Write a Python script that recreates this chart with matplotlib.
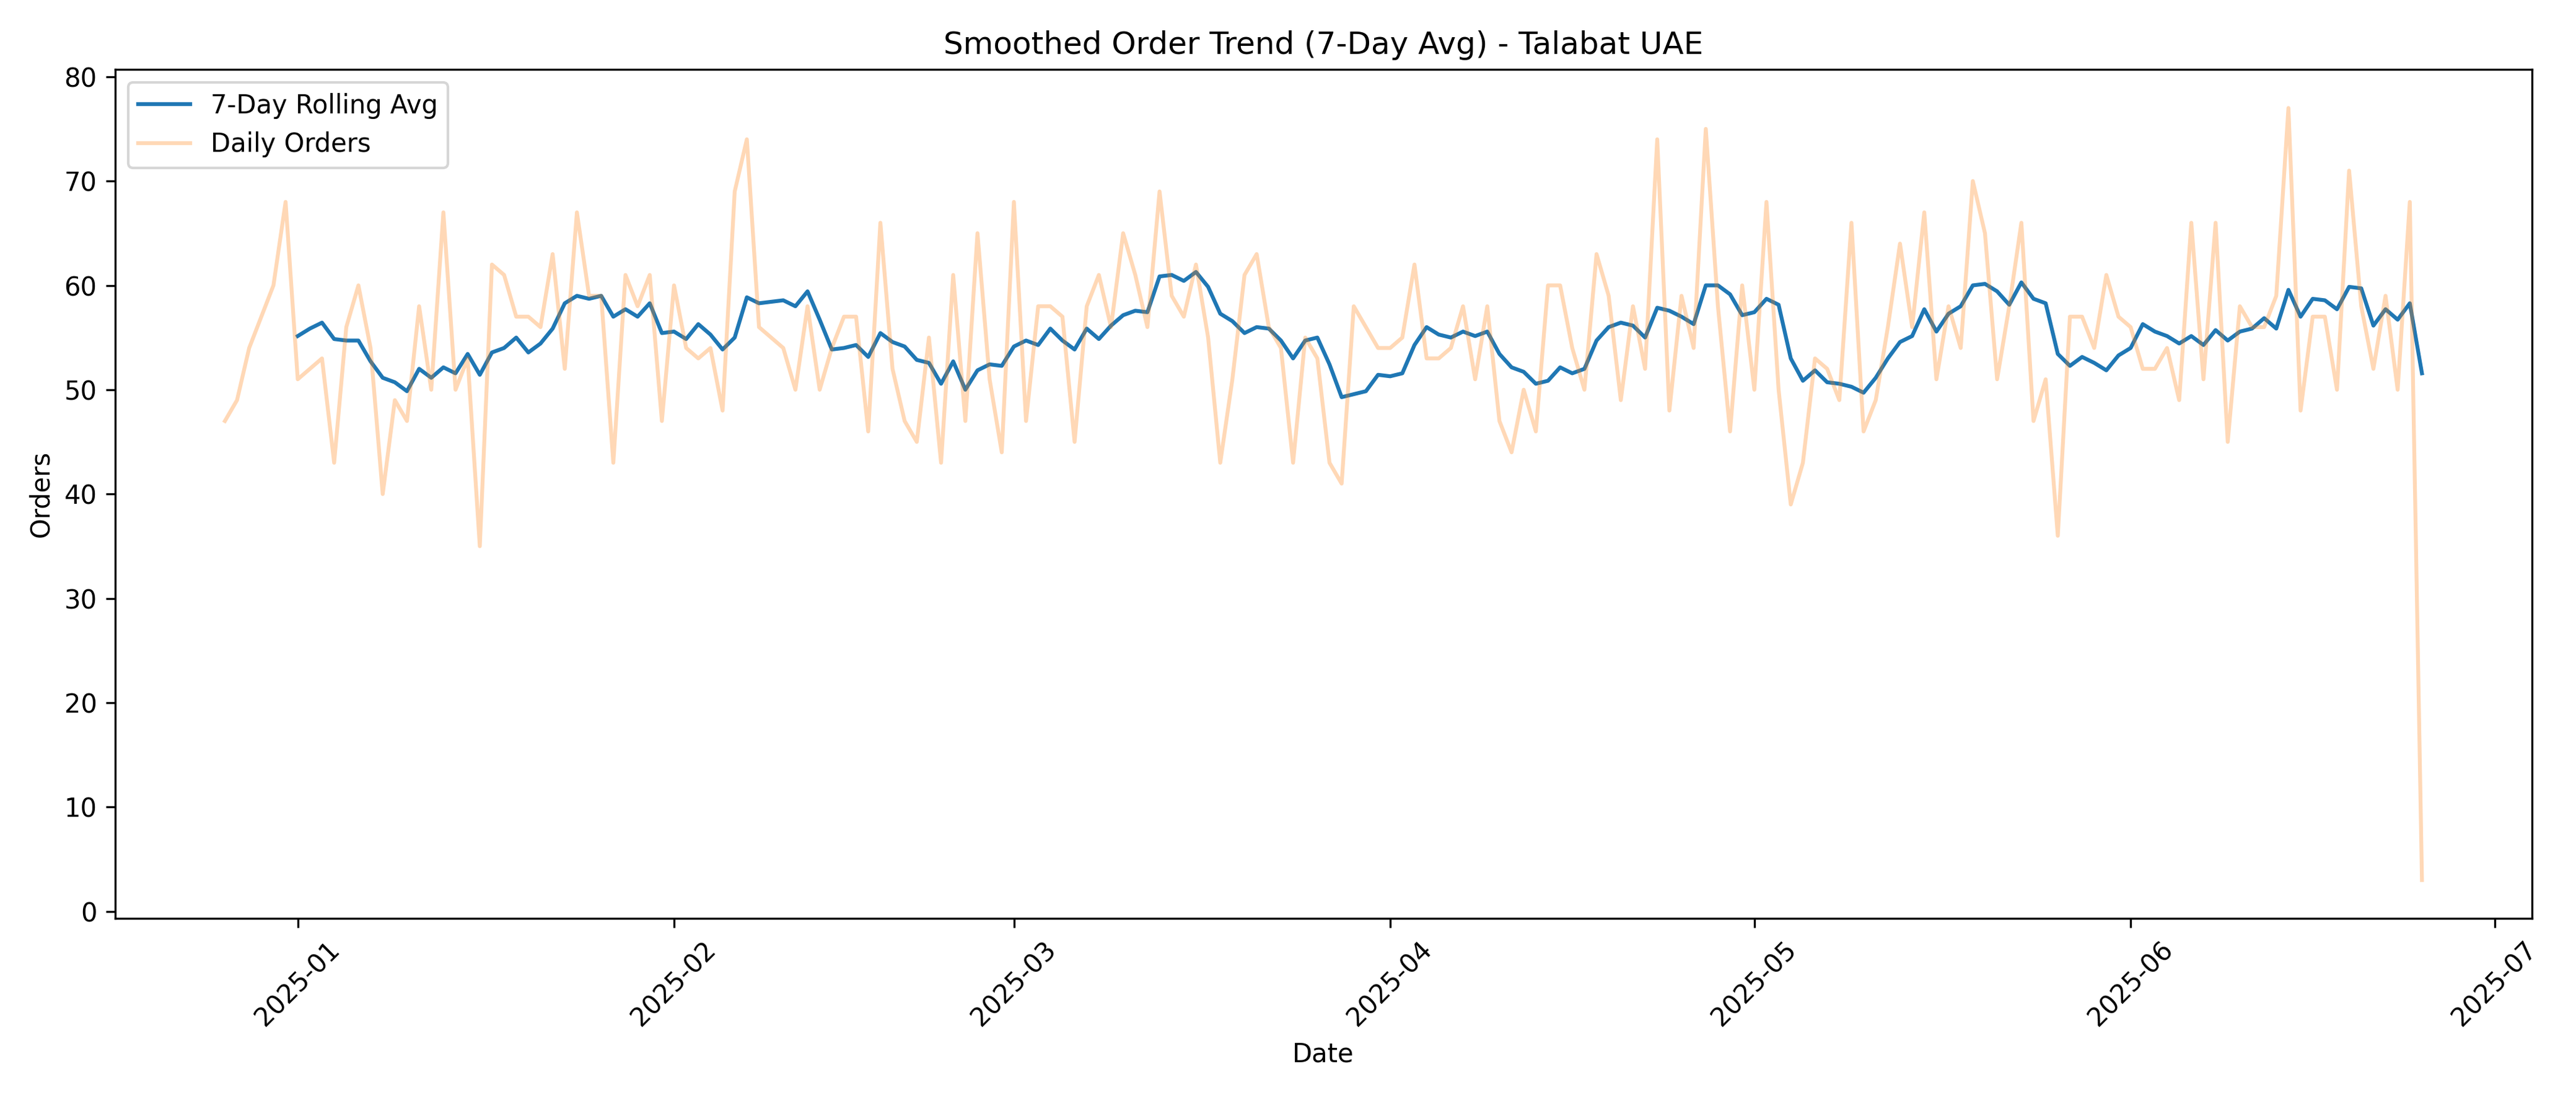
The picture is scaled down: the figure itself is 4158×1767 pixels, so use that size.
import pandas as pd
import matplotlib
matplotlib.use('Agg')
import matplotlib.pyplot as plt

start_date = '2024-12-26'
daily_orders = [
    47, 49, 54, 57, 60, 68, 51, 52, 53, 43, 56, 60, 54, 40, 49, 47, 58, 50, 67, 50,
    53, 35, 62, 61, 57, 57, 56, 63, 52, 67, 59, 59, 43, 61, 58, 61, 47, 60, 54, 53,
    54, 48, 69, 74, 56, 55, 54, 50, 58, 50, 54, 57, 57, 46, 66, 52, 47, 45, 55, 43,
    61, 47, 65, 51, 44, 68, 47, 58, 58, 57, 45, 58, 61, 56, 65, 61, 56, 69, 59, 57,
    62, 55, 43, 51, 61, 63, 56, 54, 43, 55, 53, 43, 41, 58, 56, 54, 54, 55, 62, 53,
    53, 54, 58, 51, 58, 47, 44, 50, 46, 60, 60, 54, 50, 63, 59, 49, 58, 52, 74, 48,
    59, 54, 75, 58, 46, 60, 50, 68, 50, 39, 43, 53, 52, 49, 66, 46, 49, 56, 64, 56,
    67, 51, 58, 54, 70, 65, 51, 58, 66, 47, 51, 36, 57, 57, 54, 61, 57, 56, 52, 52,
    54, 49, 66, 51, 66, 45, 58, 56, 56, 59, 77, 48, 57, 57, 50, 71, 58, 52, 59, 50,
    68, 3,
]

dates = pd.date_range(start_date, periods=len(daily_orders), freq='D')
orders = pd.Series(daily_orders, index=dates)
rolling = orders.rolling(7).mean()

fig, ax = plt.subplots(figsize=(13.86, 5.89))
ax.plot(dates, rolling, label='7-Day Rolling Avg')
ax.plot(dates, orders, alpha=0.3, label='Daily Orders')
ax.set_title('Smoothed Order Trend (7-Day Avg) - Talabat UAE')
ax.set_xlabel('Date')
ax.set_ylabel('Orders')
ax.legend(loc='upper left')
plt.xticks(rotation=45)
plt.tight_layout()
plt.savefig('out.png', dpi=300)
